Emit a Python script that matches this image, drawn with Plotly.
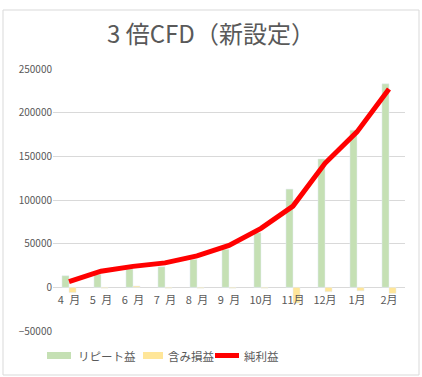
import plotly.graph_objects as go

months = ["4\u2002月", "5\u2002月", "6\u2002月", "7\u2002月", "8\u2002月", "9\u2002月", "10月", "11月", "12月", "1月", "2月"]
repeat_profit = [13300, 15000, 21000, 23500, 32000, 43500, 62500, 112500, 147000, 180000, 233000]
unrealized = [-6000, -1000, 1500, -1000, -1000, -1000, -1000, -18000, -5000, -4000, -7000]
net_profit = [6500, 18500, 24000, 28000, 36000, 48000, 67500, 93000, 142000, 178000, 227000]
series_names = ["リピート益", "含み損益", "純利益"]
series_colors = ["#c5e0b4", "#ffe699", "#ff0000"]

font_family = "Noto Sans CJK JP, Noto Sans, sans-serif"
grey = "#595959"
W, H = 422, 377

fig = go.Figure()
fig.add_trace(go.Bar(x=months, y=repeat_profit, name=series_names[0], marker_color=series_colors[0]))
fig.add_trace(go.Bar(x=months, y=unrealized, name=series_names[1], marker_color=series_colors[1]))
fig.add_trace(go.Scatter(x=months, y=net_profit, name=series_names[2], mode="lines",
                         line=dict(color=series_colors[2], width=5)))

# custom legend (Excel-style wide swatches)
ly = (H - 355.5) / H
legend_shapes = [
    dict(type="rect", xref="paper", yref="paper", x0=47 / W, x1=71 / W,
         y0=(H - 359) / H, y1=(H - 352) / H, fillcolor=series_colors[0], line=dict(width=0)),
    dict(type="rect", xref="paper", yref="paper", x0=143 / W, x1=163 / W,
         y0=(H - 359) / H, y1=(H - 352) / H, fillcolor=series_colors[1], line=dict(width=0)),
    dict(type="line", xref="paper", yref="paper", x0=215 / W, x1=239 / W, y0=ly, y1=ly,
         line=dict(color=series_colors[2], width=5)),
]
legend_text_x = [76, 166, 242]
legend_annotations = [
    dict(xref="paper", yref="paper", x=tx / W, y=ly, xanchor="left", yanchor="middle",
         text=name, showarrow=False, font=dict(size=11.5, color=grey, family=font_family))
    for tx, name in zip(legend_text_x, series_names)
]

fig.update_layout(
    width=W, height=H,
    margin=dict(l=0, r=0, t=0, b=0, autoexpand=False),
    paper_bgcolor="white", plot_bgcolor="white",
    font=dict(family=font_family, color=grey, size=11),
    title=dict(text="3 倍CFD（新設定）", x=0.5, xanchor="center", y=1 - 35 / H, yanchor="middle",
               font=dict(size=24, color=grey, family=font_family)),
    barmode="group", bargap=0.56, bargroupgap=0,
    showlegend=False,
    xaxis=dict(domain=[53 / W, 405 / W], anchor="free", position=(H - 287) / H,
               showline=False, ticks="", ticklabelstandoff=5, automargin=False,
               tickfont=dict(size=11, color=grey), showgrid=False, zeroline=False),
    yaxis=dict(domain=[(H - 331) / H, (H - 69) / H], range=[-50000, 250000], dtick=50000,
               gridcolor="#d9d9d9", gridwidth=1, automargin=False,
               zeroline=True, zerolinecolor="#d9d9d9", zerolinewidth=1,
               tickfont=dict(size=10, color=grey), ticks="", tickformat="d",
               showline=False),
    shapes=[dict(type="rect", xref="paper", yref="paper",
                 x0=3 / W, x1=419 / W, y0=(H - 375) / H, y1=(H - 10) / H,
                 line=dict(color="#d9d9d9", width=1), fillcolor="rgba(0,0,0,0)", layer="below")]
           + legend_shapes,
    annotations=legend_annotations,
)

fig.write_html("out.html", config={"displayModeBar": False},
               post_script="document.body.style.margin='0';")
